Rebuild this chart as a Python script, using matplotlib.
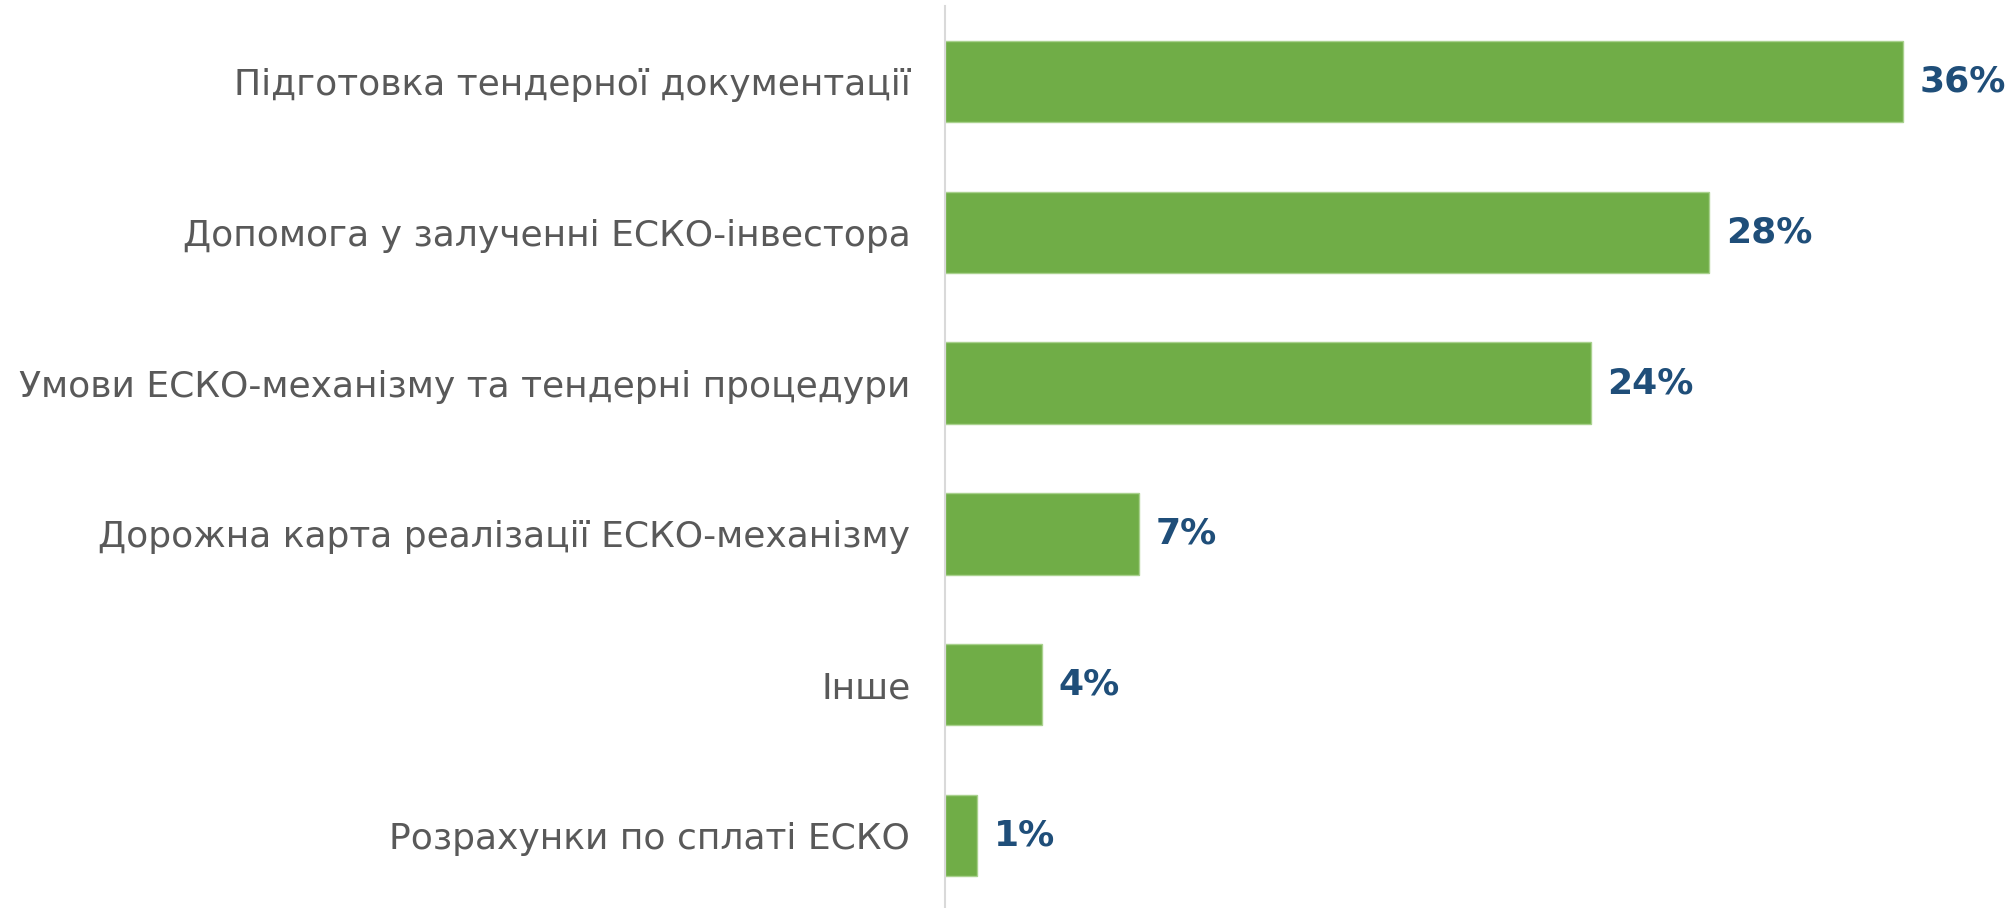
import matplotlib
matplotlib.use("Agg")
import matplotlib.pyplot as plt

categories = [
    "Підготовка тендерної документації",
    "Допомога у залученні ЕСКО-інвестора",
    "Умови ЕСКО-механізму та тендерні процедури",
    "Дорожна карта реалізації ЕСКО-механізму",
    "Інше",
    "Розрахунки по сплаті ЕСКО",
]
values = [35.6, 28.4, 24.0, 7.2, 3.6, 1.2]
value_labels = ["36%", "28%", "24%", "7%", "4%", "1%"]

W, H = 2012, 908
fig = plt.figure(figsize=(W / 100, H / 100), dpi=100)
ax = fig.add_axes([945 / W, -3 / H, (W - 945) / W, 905 / H])

ypos = list(range(len(categories)))
ax.barh(ypos, values, height=0.54, color="#70AD47", edgecolor="#A9D18E", linewidth=1)
ax.set_ylim(len(categories) - 0.5, -0.5)
ax.set_xlim(0, (W - 945) / 26.9)

ax.set_yticks(ypos)
ax.set_yticklabels(categories, fontsize=26, color="#595959", family="DejaVu Sans")
ax.tick_params(axis="y", length=0, pad=25)
ax.set_xticks([])

for s in ["top", "right", "bottom"]:
    ax.spines[s].set_visible(False)
ax.spines["left"].set_color("#D9D9D9")
ax.spines["left"].set_linewidth(1.5)

for y, v, lab in zip(ypos, values, value_labels):
    ax.annotate(lab, (v, y), xytext=(17, 0), textcoords="offset pixels",
                va="center", ha="left", fontsize=26, fontweight="bold",
                color="#1F4E79", family="DejaVu Sans")

fig.savefig("out.png", dpi=100)
